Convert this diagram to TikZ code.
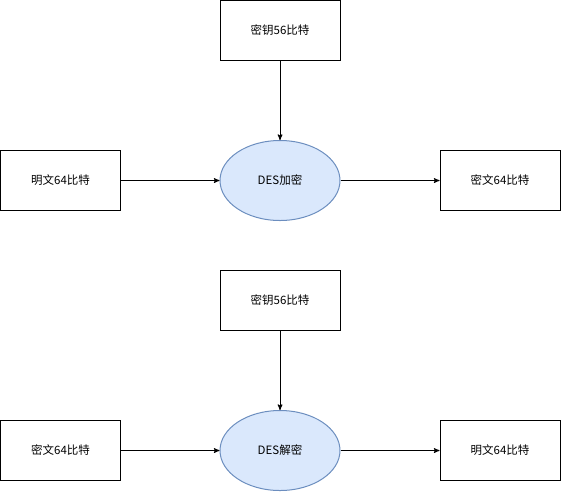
\documentclass[tikz,border=0pt]{standalone}
\usepackage{fontspec}
\setmainfont{Noto Sans CJK SC}
\usetikzlibrary{arrows,shapes.geometric}
\definecolor{desfill}{HTML}{DAE8FC}
\definecolor{desline}{HTML}{6C8EBF}

\begin{document}
\begin{tikzpicture}[x=1pt,y=-1pt,->,>=stealth',line width=1pt,
  box node/.style={rectangle,draw,fill=white,font=\fontsize{11.5}{13}\selectfont,minimum width=120pt,minimum height=60pt,inner sep=0pt},
  des node/.style={ellipse,draw=desline,fill=desfill,font=\fontsize{11.5}{13}\selectfont,minimum width=120pt,minimum height=80pt,inner sep=0pt}]

  \useasboundingbox (0,0) rectangle (561,491);

  % encryption
  \node[box node] (1) at (280,30.5) {密钥56比特};
  \node[box node] (2) at (60.5,180.5) {明文64比特};
  \node[des node] (3) at (280,180.5) {DES加密};
  \node[box node] (4) at (500,180.5) {密文64比特};

  % decryption
  \node[box node] (5) at (280,300.5) {密钥56比特};
  \node[box node] (6) at (60.5,450.5) {密文64比特};
  \node[des node] (7) at (280,450.5) {DES解密};
  \node[box node] (8) at (500,450.5) {明文64比特};

  \path
    (1) edge (3)
    (2) edge (3)
    (3) edge (4)
    (5) edge (7)
    (6) edge (7)
    (7) edge (8);
\end{tikzpicture}
\end{document}
